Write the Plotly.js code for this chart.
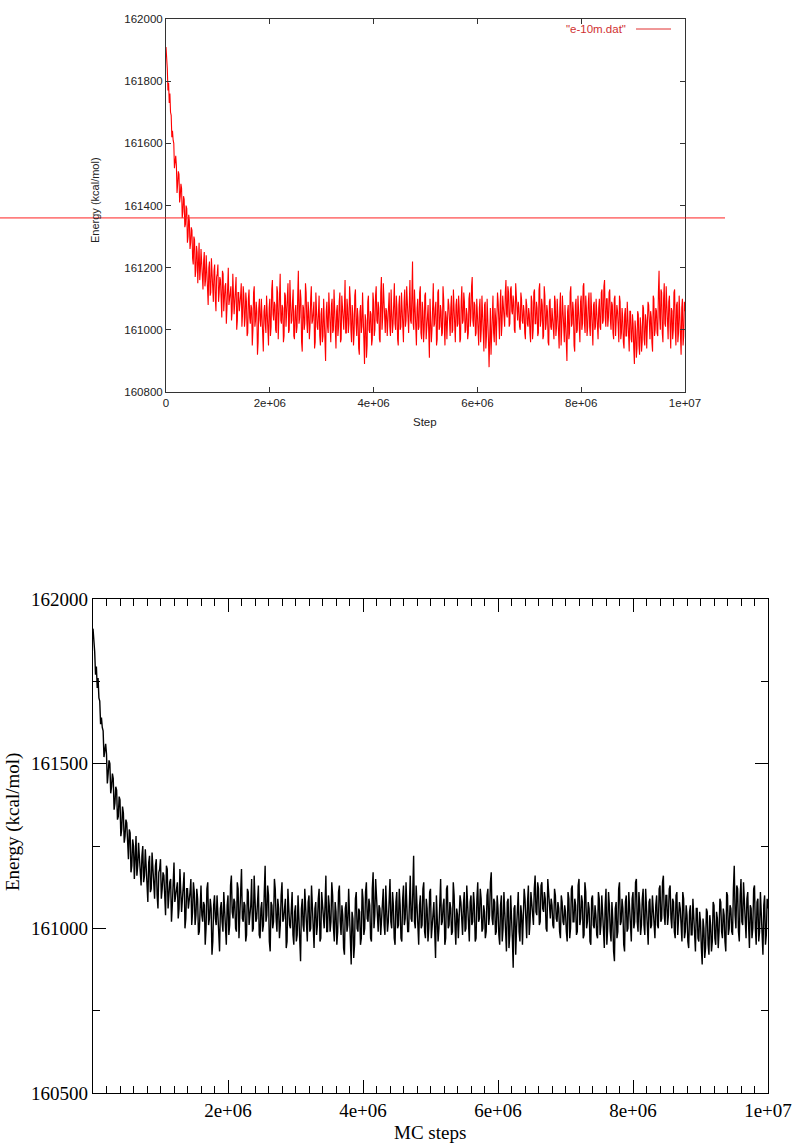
<!DOCTYPE html>
<html>
<head>
<meta charset="utf-8">
<script src="https://cdn.plot.ly/plotly-3.0.1.min.js"></script>
<style>
  html, body { margin: 0; padding: 0; background: #fff; }
  #chart { width: 800px; height: 1145px; }
</style>
</head>
<body>
<div id="chart"></div>
<script>
// MC energy trace.
// energyA: samples at steps 0, 25000, 50000 ... 1e7
// energyB: samples in between, at 12500, 37500 ... 9987500
var STEP_DX = 12500;
var energyA = [
  161910, 161840, 161795, 161760, 161690, 161640, 161600, 161555, 161530, 161470, 161500, 161430, 161455, 161380, 161420, 161340, 161390, 161300, 161350, 161280,
  161320, 161210, 161290, 161190, 161250, 161230, 161160, 161260, 161180, 161220, 161140, 161240, 161170, 161200, 161110, 161230, 161150, 161190, 161100, 161170,
  161210, 161120, 161160, 161040, 161180, 161110, 161150, 161070, 161200, 161100, 161140, 161060, 161130, 161090, 161170, 161030, 161120, 161080, 161150, 161050,
  161110, 161040, 161090, 160990, 161130, 161020, 161070, 161000, 161140, 161030, 161060, 160960, 161100, 161010, 161050, 160930, 161080, 160990, 161040, 160950,
  161100, 161010, 161160, 161030, 161080, 160990, 161120, 161040, 161180, 161020, 161070, 160980, 161110, 161050, 161150, 161000, 161090, 161030, 161130, 160970,
  161080, 161010, 161190, 161040, 161100, 160930, 161070, 161020, 161120, 160990, 161060, 161010, 161140, 161030, 161090, 160960, 161050, 161000, 161110, 160950,
  161070, 160980, 161040, 160900, 161090, 160990, 161050, 160960, 161100, 161000, 161040, 160940, 161080, 161010, 161120, 160970, 161060, 161000, 161160, 160990,
  161070, 161020, 161100, 160960, 161050, 160990, 161130, 160980, 161040, 160920, 161080, 161010, 161060, 160890, 161030, 160950, 161110, 160990, 161050, 160970,
  161090, 161000, 161140, 161020, 161070, 160960, 161170, 161040, 161100, 160990, 161060, 161030, 161120, 160980, 161080, 161020, 161150, 161000, 161070, 160950,
  161110, 161010, 161070, 160960, 161130, 161030, 161080, 160990, 161160, 161020, 161220, 161000, 161060, 160950, 161100, 161010, 161140, 160970, 161060, 161000,
  161120, 161010, 161080, 160910, 161050, 161000, 161150, 161020, 161090, 160970, 161130, 161010, 161060, 160990, 161100, 160950, 161040, 161020, 161080, 160980,
  161110, 161000, 161060, 160960, 161100, 161020, 161070, 160970, 161140, 161030, 161090, 161000, 161050, 160990, 161120, 161040, 161170, 161010, 161080, 160990,
  161060, 160950, 161100, 161000, 161040, 160930, 161090, 160980, 161050, 160880, 161070, 161000, 161110, 160960, 161040, 161010, 161090, 160970, 161130, 161020,
  161080, 161010, 161160, 161040, 161120, 161020, 161140, 161050, 161090, 160990, 161110, 161030, 161070, 161000, 161100, 161020, 161060, 160970, 161080, 161010,
  161050, 160960, 161090, 161000, 161130, 161020, 161070, 160990, 161150, 161030, 161080, 160980, 161110, 161020, 161060, 160950, 161100, 161000, 161040, 160970,
  161090, 161010, 161050, 160940, 161120, 161000, 161070, 160960, 161030, 160900, 161080, 160990, 161140, 161020, 161060, 160930, 161100, 161000, 161050, 160960,
  161110, 161020, 161150, 160990, 161070, 161010, 161120, 160980, 161060, 160950, 161090, 161010, 161040, 160970, 161100, 161000, 161130, 161030, 161160, 161010,
  161100, 161040, 161130, 161000, 161080, 160970, 161110, 161020, 161060, 160960, 161090, 160990, 161040, 160940, 161070, 160980, 161030, 160930, 161060, 160960,
  161020, 160890, 161000, 160940, 161050, 160920, 161010, 160960, 161070, 160950, 161030, 160990, 161080, 160970, 161040, 160930, 161100, 161000, 161060, 160980,
  161190, 161000, 161120, 160960, 161150, 161010, 161080, 160970, 161110, 160940, 161060, 161000, 161130, 160950, 161090, 160990, 161040, 160920, 161100, 160980,
  161060
];
var energyB = [
  161880, 161770, 161730, 161700, 161620, 161610, 161520, 161560, 161440, 161510, 161410, 161470, 161360, 161430, 161330, 161400, 161280, 161370, 161260, 161330,
  161230, 161300, 161170, 161270, 161150, 161280, 161190, 161210, 161130, 161250, 161160, 161190, 161080, 161220, 161120, 161170, 161090, 161210, 161060, 161180,
  161090, 161170, 161070, 161190, 161060, 161140, 161020, 161160, 161080, 161130, 161030, 161180, 161050, 161140, 161000, 161120, 161060, 161110, 161010, 161140,
  161010, 161120, 160980, 161100, 161040, 161080, 160950, 161120, 161010, 161090, 160920, 161070, 161030, 161100, 160970, 161060, 161020, 161110, 160990, 161070,
  160980, 161130, 161050, 161090, 161000, 161140, 160970, 161100, 161030, 161080, 160960, 161120, 161010, 161070, 160990, 161160, 161020, 161090, 160980, 161060,
  160990, 161110, 161020, 161130, 160960, 161080, 161000, 161150, 161030, 161090, 160970, 161100, 161020, 161060, 160940, 161120, 161010, 161080, 160980, 161050,
  160960, 161100, 160930, 161060, 161010, 161120, 160970, 161080, 160990, 161130, 160950, 161060, 160980, 161090, 160960, 161110, 161010, 161070, 160990, 161100,
  160990, 161140, 161000, 161080, 160950, 161110, 161020, 161070, 160940, 161060, 160990, 161120, 160960, 161050, 160910, 161090, 161000, 161060, 160950, 161120,
  160980, 161110, 161030, 161090, 160970, 161120, 161000, 161150, 161020, 161070, 160980, 161100, 161010, 161130, 160990, 161070, 161020, 161110, 160970, 161080,
  161000, 161120, 160970, 161090, 161010, 161140, 160990, 161080, 161030, 161110, 161020, 161130, 160980, 161070, 161000, 161120, 160990, 161090, 160960, 161110,
  160970, 161060, 160990, 161100, 160960, 161110, 161010, 161070, 160950, 161120, 161000, 161080, 160980, 161140, 161010, 161060, 160970, 161100, 161000, 161070,
  160990, 161130, 160980, 161080, 161010, 161110, 160960, 161090, 161020, 161120, 160990, 161070, 160970, 161100, 161010, 161140, 161030, 161090, 160980, 161100,
  160980, 161070, 160960, 161110, 160990, 161080, 160940, 161100, 160970, 161060, 160920, 161090, 160990, 161070, 160950, 161120, 161000, 161080, 160980, 161110,
  161030, 161120, 161050, 161140, 161010, 161130, 161060, 161110, 161000, 161150, 161040, 161090, 161010, 161120, 161030, 161080, 160990, 161100, 161020, 161070,
  160990, 161110, 160970, 161120, 161020, 161090, 160980, 161130, 161010, 161100, 160970, 161140, 161000, 161080, 160960, 161090, 161010, 161070, 160980, 161110,
  160980, 161100, 161000, 161070, 160950, 161110, 160990, 161080, 160930, 161060, 160970, 161120, 161010, 161090, 160950, 161080, 160990, 161110, 160970, 161090,
  161000, 161140, 161020, 161110, 160980, 161090, 161010, 161120, 160970, 161080, 161000, 161100, 160980, 161070, 161010, 161120, 161020, 161140, 161040, 161100,
  161010, 161120, 161030, 161090, 160990, 161100, 160980, 161080, 161000, 161110, 160970, 161070, 160960, 161050, 160980, 161090, 160950, 161060, 160970, 161050,
  160940, 161030, 160910, 161060, 160950, 161040, 160930, 161080, 160970, 161050, 160940, 161090, 160990, 161060, 160960, 161110, 160980, 161070, 160990, 161120,
  161040, 161130, 160990, 161100, 161020, 161140, 160980, 161090, 161010, 161070, 160970, 161120, 161000, 161080, 160960, 161110, 160990, 161070, 160950, 161090
];

// merge the two sample sets in step order
var energy = [];
for (var i = 0; i < energyA.length; i++) {
  energy.push(energyA[i]);
  if (i < energyB.length) energy.push(energyB[i]);
}

var refLevel = 161360;          // horizontal reference line, top plot
var legendLabel = '"e-10m.dat"';

var topXTicks = [0, 2e6, 4e6, 6e6, 8e6, 1e7];
var topXLabels = ['0', '2e+06', '4e+06', '6e+06', '8e+06', '1e+07'];
var botXTicks = [2e6, 4e6, 6e6, 8e6, 1e7];
var botXLabels = ['2e+06', '4e+06', '6e+06', '8e+06', '1e+07'];

var W = 800, H = 1145;
function px(x) { return x / W; }
function py(y) { return 1 - y / H; }

var sans = 'Liberation Sans, Arial, sans-serif';
var serif = 'Liberation Serif, Times New Roman, serif';

var traces = [
  {
    y: energy, x0: 0, dx: STEP_DX,
    type: 'scatter', mode: 'lines',
    line: { color: '#ff0000', width: 1.1 },
    xaxis: 'x', yaxis: 'y', hoverinfo: 'skip'
  },
  {
    y: energy, x0: 0, dx: STEP_DX,
    type: 'scatter', mode: 'lines',
    line: { color: '#000000', width: 1.4 },
    xaxis: 'x2', yaxis: 'y2', hoverinfo: 'skip'
  }
];

var layout = {
  width: W, height: H,
  margin: { l: 0, r: 0, t: 0, b: 0 },
  paper_bgcolor: '#ffffff', plot_bgcolor: '#ffffff',
  showlegend: false,
  // gnuplot-style top plot
  xaxis: {
    domain: [px(166), px(685)], anchor: 'y',
    range: [0, 1e7], tickmode: 'array', tickvals: topXTicks, ticktext: topXLabels,
    ticks: 'inside', ticklen: 5, tickcolor: '#333', showline: true, linecolor: '#333', linewidth: 1,
    mirror: 'ticks', showgrid: false, zeroline: false,
    tickfont: { family: sans, size: 11.5, color: '#222' }
  },
  yaxis: {
    domain: [py(392), py(19)], anchor: 'x',
    range: [160800, 162000], dtick: 200, tick0: 160800, tickformat: 'd',
    ticks: 'inside', ticklen: 5, tickcolor: '#333', showline: true, linecolor: '#333', linewidth: 1,
    mirror: 'ticks', showgrid: false, zeroline: false,
    tickfont: { family: sans, size: 11.5, color: '#222' }
  },
  // xmgrace-style bottom plot
  xaxis2: {
    domain: [px(93), px(768)], anchor: 'y2',
    range: [0, 1e7], tickmode: 'array', tickvals: botXTicks, ticktext: botXLabels,
    ticks: 'inside', ticklen: 13, tickcolor: '#000', showline: true, linecolor: '#000', linewidth: 1.2,
    mirror: 'ticks', showgrid: false, zeroline: false,
    minor: { tickmode: 'linear', tick0: 0, dtick: 2e5, ticks: 'inside', ticklen: 7, tickcolor: '#000' },
    tickfont: { family: serif, size: 19, color: '#000' }
  },
  yaxis2: {
    domain: [py(1093), py(599)], anchor: 'x2',
    range: [160500, 162000], dtick: 500, tick0: 160500, tickformat: 'd',
    ticks: 'inside', ticklen: 13, tickcolor: '#000', showline: true, linecolor: '#000', linewidth: 1.2,
    mirror: 'ticks', showgrid: false, zeroline: false,
    minor: { tickmode: 'linear', tick0: 160500, dtick: 250, ticks: 'inside', ticklen: 7, tickcolor: '#000' },
    tickfont: { family: serif, size: 19, color: '#000' }
  },
  shapes: [
    { type: 'line', xref: 'paper', yref: 'y', x0: 0, x1: px(725), y0: refLevel, y1: refLevel,
      line: { color: '#ff2020', width: 1 } },
    { type: 'line', xref: 'paper', yref: 'paper', x0: px(636), x1: px(671), y0: py(29), y1: py(29),
      line: { color: '#e03030', width: 1 } }
  ],
  annotations: [
    { text: legendLabel, xref: 'paper', yref: 'paper', x: px(628), y: py(29), xanchor: 'right', yanchor: 'middle',
      showarrow: false, font: { family: sans, size: 11.5, color: '#d03030' } },
    { text: 'Energy (kcal/mol)', xref: 'paper', yref: 'paper', x: px(95), y: py(200), textangle: -90,
      xanchor: 'center', yanchor: 'middle', showarrow: false, font: { family: sans, size: 11, color: '#222' } },
    { text: 'Step', xref: 'paper', yref: 'paper', x: px(425), y: py(422), xanchor: 'center', yanchor: 'middle',
      showarrow: false, font: { family: sans, size: 11.5, color: '#222' } },
    { text: 'Energy (kcal/mol)', xref: 'paper', yref: 'paper', x: px(13), y: py(822), textangle: -90,
      xanchor: 'center', yanchor: 'middle', showarrow: false, font: { family: serif, size: 19, color: '#000' } },
    { text: 'MC steps', xref: 'paper', yref: 'paper', x: px(430), y: py(1132), xanchor: 'center', yanchor: 'middle',
      showarrow: false, font: { family: serif, size: 19, color: '#000' } }
  ]
};

Plotly.newPlot('chart', traces, layout, { staticPlot: true, displayModeBar: false });
</script>
</body>
</html>
